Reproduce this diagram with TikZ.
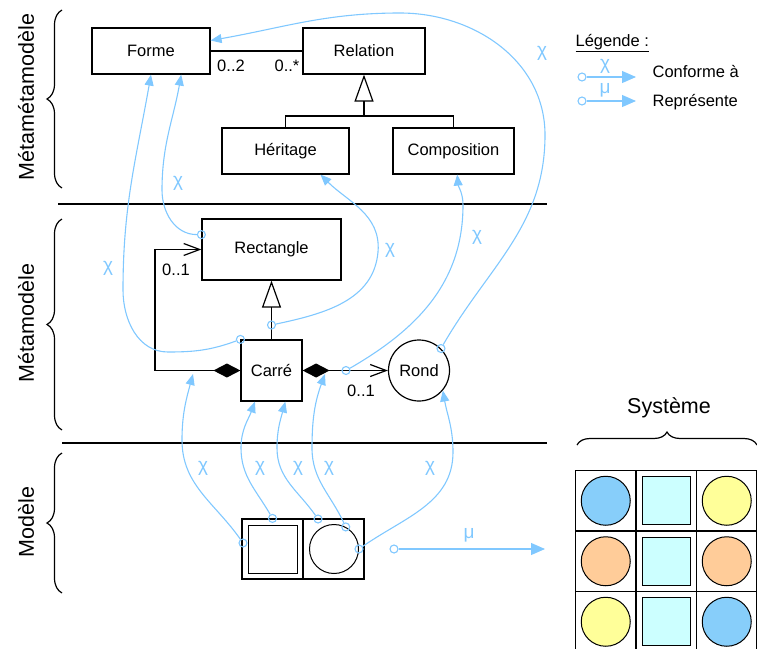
\documentclass[tikz,border=0pt]{standalone}
\usepackage{fontspec}
\setmainfont{Liberation Sans}
\usepackage{tikz}
\usetikzlibrary{arrows.meta,shapes,decorations.pathreplacing}

\definecolor{chiblue}{RGB}{128,200,255}
\definecolor{ballblue}{RGB}{135,206,250}
\definecolor{ballyellow}{RGB}{255,255,153}
\definecolor{ballorange}{RGB}{255,204,153}
\definecolor{tilecyan}{RGB}{204,255,255}

\begin{document}
\begin{tikzpicture}[x=1pt,y=-1pt,line width=1.2pt,inner sep=0pt,
  font=\fontsize{16.5}{19}\selectfont,
  box/.style={rectangle,draw=black},
  port/.style={circle,draw=chiblue,line width=1.1pt,minimum size=8pt},
  conf/.style={chiblue,line width=1.1pt,-{Triangle[length=11pt,width=9pt]}},
  bigconf/.style={chiblue,line width=1.1pt,-{Triangle[length=14pt,width=12pt]}},
  chi/.style={chiblue,font=\fontsize{19}{22}\selectfont},
  inherit/.style={-{Triangle[open,length=27pt,width=19pt]}},
  compo/.style={{Diamond[length=27pt,width=14pt]}-{Straight Barb[length=16pt,width=12pt]}},
  level/.style={rotate=90,font=\fontsize{21.5}{25}\selectfont},
  lbrace/.style={decorate,decoration={brace,amplitude=15pt}},
  cell/.style={rectangle,draw=black,minimum size=60.5pt},
  ball/.style={circle,draw=black,line width=1pt,minimum size=49pt},
  tile/.style={rectangle,draw=black,fill=tilecyan,minimum size=48pt}]
\useasboundingbox (0,0) rectangle (757,648);
% Levels
\node at (26,97) [level] (LvlMMM) {Métamétamodèle};
\node at (26,323) [level] (LvlMM) {Métamodèle};
\node at (26,522) [level] (LvlM) {Modèle};
\draw [lbrace] (62,188) -- (62,10);
\draw [lbrace] (62,430) -- (62,219);
\draw [lbrace] (62,593) -- (62,453);
\coordinate (SepAL) at (58,204);
\coordinate (SepAR) at (547,204);
\coordinate (SepBL) at (62,443);
\coordinate (SepBR) at (547,443);
\draw (SepAL) -- (SepAR);
\draw (SepBL) -- (SepBR);
% Metametamodel
\node at (151,51) [box,minimum width=118pt,minimum height=46pt] (Forme) {Forme};
\node at (364,51) [box,minimum width=122pt,minimum height=46pt] (Relation) {Relation};
\node at (285.5,151) [box,minimum width=127pt,minimum height=46pt] (Heritage) {Héritage};
\node at (453.5,151) [box,minimum width=121pt,minimum height=46pt] (Composition) {Composition};
\coordinate (HerJoin) at (364,116);
\draw (Forme.east) -- (Relation.west);
\node at (231,66) (MultA) {0..2};
\node at (287,66) (MultB) {0..*};
\draw [inherit] (HerJoin) -- (Relation.south);
\draw (Heritage.north) |- (HerJoin) -| (Composition.north);
% Metamodel
\node at (271.5,249.5) [box,minimum width=139pt,minimum height=61pt] (Rectangle) {Rectangle};
\node at (271.5,370.5) [box,minimum width=61pt,minimum height=61pt] (Carre) {Carré};
\node at (419,370.5) [circle,draw=black,minimum size=61pt] (Rond) {Rond};
\coordinate (BendA) at (155,370.5);
\coordinate (BendB) at (155,249.5);
\draw [inherit] (Carre.north) -- (Rectangle.south);
\draw [compo] (Carre.west) -- (BendA) -- (BendB) -- (Rectangle.west);
\draw [compo] (Carre.east) -- (Rond.west);
\node at (176,270) (MultC) {0..1};
\node at (361,391) (MultD) {0..1};
% Model
\node at (272.5,549) [box,minimum width=61pt,minimum height=60pt] (ModCarre) {};
\node at (272.5,549) [box,line width=1pt,minimum width=49pt,minimum height=48pt] (ModCarreIn) {};
\node at (333.5,549) [box,minimum width=61pt,minimum height=60pt] (ModRond) {};
\node at (334,549) [circle,draw=black,line width=1pt,minimum size=49pt] (ModRondIn) {};
% Ports
\node at (Rond.45) [port] (Src1) {};
\node at (Carre.north west) [port] (Src2) {};
\node at (Rectangle.168) [port] (Src3) {};
\node at (271.5,325) [port] (Src4) {};
\node at (346,370.5) [port] (Src5) {};
\node at (243,543) [port] (Src6) {};
\node at (ModCarre.north) [port] (Src7) {};
\node at (318,519) [port] (Src8) {};
\node at (ModRondIn.62) [port] (Src9) {};
\node at (ModRondIn.east) [port] (Src10) {};
\node at (394,549) [port] (Src11) {};
\coordinate (Tip6) at (193,374);
\coordinate (Tip9) at (325,374);
\coordinate (SysIn) at (545,549);
% Conformity links
\draw [conf] (Src1) to[out=60,in=-90] (545,135) to[out=90,in=0] (400,13) to[out=180,in=10] (Forme.10);
\draw [conf] (Src2) to[out=200,in=0] (168,352) to[out=180,in=-90] (123,290) to[out=90,in=-100] (Forme.south);
\draw [conf] (Src3) to[out=180,in=-90] (162,190) to[out=90,in=-100] (Forme.-38);
\draw [conf] (Src4) to[out=12,in=-95] (378,252) to[out=85,in=-45] (Heritage.-34);
\draw [conf] (Src5) to[out=30,in=-90] (463,205) to[out=90,in=-85] (Composition.-81);
\draw [conf] (Src6) to[out=125,in=-90] (182,440) to[out=90,in=-105] (Tip6);
\draw [conf] (Src7) to[out=120,in=-90] (241,448) to[out=90,in=-110] (Carre.-118);
\draw [conf] (Src8) to[out=125,in=-90] (277,448) to[out=90,in=-105] (Carre.-66);
\draw [conf] (Src9) to[out=115,in=-90] (312,448) to[out=90,in=-110] (Tip9);
\draw [conf] (Src10) to[out=35,in=-90] (453,452) to[out=90,in=-80] (Rond.-40);
\draw [bigconf] (Src11) -- (SysIn);
% Link labels
\node at (542,53) [chi] (ChiA) {χ};
\node at (108,268) [chi] (ChiB) {χ};
\node at (178,183) [chi] (ChiC) {χ};
\node at (390,250) [chi] (ChiD) {χ};
\node at (477,237) [chi] (ChiE) {χ};
\node at (203,468) [chi] (ChiF) {χ};
\node at (260,468) [chi] (ChiG) {χ};
\node at (298,468) [chi] (ChiH) {χ};
\node at (329,468) [chi] (ChiI) {χ};
\node at (430,468) [chi] (ChiJ) {χ};
\node at (469,535) [chi] (MuA) {μ};
% Legend
\node at (575,46) [anchor=base west] (LegTitle) {\underline{Légende :}};
\node at (582,77) [port] (LegA) {};
\node at (582,101) [port] (LegB) {};
\coordinate (LegAEnd) at (636,77);
\coordinate (LegBEnd) at (636,101);
\draw [bigconf] (LegA) -- (LegAEnd);
\draw [bigconf] (LegB) -- (LegBEnd);
\node at (605,66) [chi] (LegChi) {χ};
\node at (605,90) [chi] (LegMu) {μ};
\node at (652,77) [anchor=base west] (LegConf) {Conforme à};
\node at (652,106) [anchor=base west] (LegRep) {Représente};
% System
\node at (669,408) [font=\fontsize{21.5}{25}\selectfont] (SysTitle) {Système};
\draw [decorate,decoration={brace,amplitude=13pt}] (577,445) -- (757,445);
\node at (605.75,500.75) [cell] (C11) {};
\node at (666.25,500.75) [cell] (C12) {};
\node at (726.75,500.75) [cell] (C13) {};
\node at (605.75,561.25) [cell] (C21) {};
\node at (666.25,561.25) [cell] (C22) {};
\node at (726.75,561.25) [cell] (C23) {};
\node at (605.75,621.75) [cell] (C31) {};
\node at (666.25,621.75) [cell] (C32) {};
\node at (726.75,621.75) [cell] (C33) {};
\node at (C11) [ball,fill=ballblue] (B11) {};
\node at (C12) [tile] (T12) {};
\node at (C13) [ball,fill=ballyellow] (B13) {};
\node at (C21) [ball,fill=ballorange] (B21) {};
\node at (C22) [tile] (T22) {};
\node at (C23) [ball,fill=ballorange] (B23) {};
\node at (C31) [ball,fill=ballyellow] (B31) {};
\node at (C32) [tile] (T32) {};
\node at (C33) [ball,fill=ballblue] (B33) {};
\end{tikzpicture}
\end{document}
